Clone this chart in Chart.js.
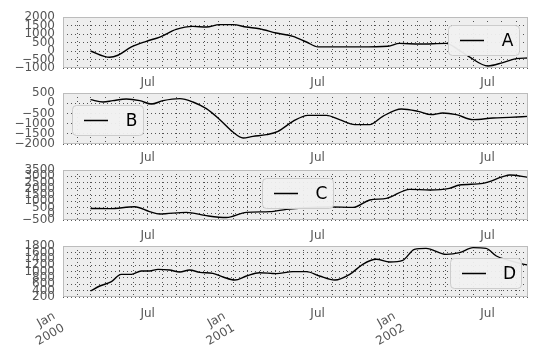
<!DOCTYPE html>
<html><head><meta charset="utf-8">
<script src="https://cdn.jsdelivr.net/npm/chart.js@4.4.0/dist/chart.umd.min.js"></script>
<style>
html,body{margin:0;padding:0;background:#fff;}
#wrap{position:relative;width:537px;height:358px;overflow:hidden;background:#fff;}
canvas{position:absolute;left:0;}
</style></head><body><div id="wrap">
<canvas id="cA" width="537" height="83" style="top:9px"></canvas>
<canvas id="cB" width="537" height="83" style="top:85px"></canvas>
<canvas id="cC" width="537" height="82" style="top:162px"></canvas>
<canvas id="cD" width="537" height="120" style="top:238px"></canvas>
</div>
<script>
// ---- data (days since 2000-01-01, 60-day rolling sums) ----
const daysA = [59,100,118,147,179,208,243,279,308,336,365,394,422,458,494,523,548,587,637,698,723,766,823,848,873,913,945,974,999];
const valuesA = [0,-370,-250,240,570,820,1270,1450,1410,1550,1550,1410,1310,1060,860,530,240,240,240,280,450,410,450,100,-350,-880,-680,-450,-410];
const daysB = [59,86,107,136,165,190,215,251,279,308,337,365,387,408,437,462,494,526,566,594,627,659,687,727,763,791,816,845,881,924,959,999];
const valuesB = [173,60,124,206,124,-40,124,222,60,-268,-807,-1412,-1706,-1624,-1542,-1379,-889,-595,-595,-807,-1052,-1052,-644,-284,-399,-562,-480,-562,-807,-725,-693,-644];
const daysC = [59,100,154,186,208,265,308,351,394,444,480,520,573,623,659,695,745,788,830,852,902,945,960,999];
const valuesC = [420,407,560,167,-20,113,-153,-300,113,167,353,480,540,513,1100,1233,1953,1900,2033,2300,2433,2967,3100,2913];
const daysD = [59,79,104,125,147,168,186,204,229,251,272,294,322,344,369,394,422,458,494,523,551,584,616,644,673,702,730,755,780,823,852,881,909,931,958,984,999];
const valuesD = [388,545,681,911,911,1016,1016,1068,1047,984,1047,974,942,827,733,858,963,932,995,995,858,733,911,1225,1382,1298,1350,1695,1727,1538,1591,1748,1727,1486,1350,1246,1204];
const seriesNames = ['A','B','C','D'];
const julTickLabel = 'Jul';
const janTickLabels = [['Jan','2000'],['Jan','2001'],['Jan','2002']];
const tickYears = [2000,2001,2002];

const FONT = 'DejaVu Sans';
const t0 = Date.UTC(2000,0,1);
const dayOf = (y,m) => (Date.UTC(y,m,1)-t0)/86400000;
const monthTicks = [];
for (const y of tickYears) for (let m=0;m<12;m++){ const d=dayOf(y,m); if (d<=999) monthTicks.push(d); }
const julDays = tickYears.map(y=>dayOf(y,6));
const janDays = tickYears.map(y=>dayOf(y,0));

const minus = v => v<0 ? '\u2212'+Math.abs(v) : String(v);
const noPad = s => { s.paddingTop = 0; s.paddingBottom = 0; s.paddingLeft = 0; s.paddingRight = 0; };

const framePlugin = {
  id:'frameLegend',
  beforeDraw(chart){
    const a = chart.chartArea, ctx = chart.ctx;
    ctx.save(); ctx.fillStyle = '#eeeeee';
    ctx.fillRect(a.left, a.top, a.right-a.left, a.bottom-a.top); ctx.restore();
  },
  afterDraw(chart, args, opts){
    const a = chart.chartArea, ctx = chart.ctx;
    ctx.save();
    ctx.strokeStyle = '#bcbcbc'; ctx.lineWidth = 1;
    ctx.strokeRect(Math.round(a.left)+0.5, Math.round(a.top)+0.5, Math.round(a.right-a.left)-1, Math.round(a.bottom-a.top)-1);
    // legend box
    const x = a.left + opts.left, y = a.top + opts.top, w = 71, h = 30;
    ctx.beginPath(); ctx.roundRect(x+0.5, y+0.5, w, h, 4);
    ctx.fillStyle = 'rgba(240,240,240,0.95)'; ctx.fill();
    ctx.strokeStyle = '#cccccc'; ctx.lineWidth = 1; ctx.stroke();
    ctx.beginPath(); ctx.moveTo(x+12, y+h/2+0.5); ctx.lineTo(x+36, y+h/2+0.5);
    ctx.strokeStyle = '#000'; ctx.lineWidth = 1.5; ctx.stroke();
    ctx.fillStyle = '#000'; ctx.font = '17px "'+FONT+'"';
    ctx.textAlign = 'center'; ctx.textBaseline = 'middle';
    ctx.fillText(opts.label, x+59.5, y+h/2+1.5);
    // rotated Jan labels (bottom panel only)
    if (opts.janLabels) {
      const xs = chart.scales.x;
      ctx.fillStyle = '#555555'; ctx.font = '12px "'+FONT+'"';
      ctx.textAlign = 'right'; ctx.textBaseline = 'top';
      janDays.forEach((d,i)=>{
        const px = xs.getPixelForValue(d);
        ctx.save();
        ctx.translate(px - 10, a.bottom + 12);
        ctx.rotate(-Math.PI/6);
        janTickLabels[i].forEach((ln,j)=>ctx.fillText(ln, -2*(1-j), j*15));
        ctx.restore();
      });
    }
    ctx.restore();
  }
};

function makePanel(id, days, values, name, ymin, ymax, step, axisH, labPad, legLeft, legTop, janLabels){
  new Chart(document.getElementById(id), {
    type:'line',
    data:{ datasets:[{ label:name, data: days.map((d,i)=>({x:d, y:values[i]})),
      borderColor:'#000', borderWidth:1.4, pointRadius:0, fill:false,
      cubicInterpolationMode:'monotone' }]},
    options:{
      responsive:false, animation:false, devicePixelRatio:1,
      layout:{ padding:{ top:8, right:9, left:0, bottom:0 } },
      plugins:{ legend:{display:false}, tooltip:{enabled:false},
        frameLegend:{ left:legLeft, top:legTop, label:name, janLabels } },
      scales:{
        x:{ type:'linear', min:0, max:999,
          afterBuildTicks(s){ s.ticks = monthTicks.map(v=>({value:v})); },
          afterFit(s){ s.height = axisH; noPad(s); },
          grid:{ color:'rgba(0,0,0,0.65)', lineWidth:1, drawTicks:false },
          border:{ display:false, dash:[1,3] },
          ticks:{ autoSkip:false, maxRotation:0, minRotation:0, padding:labPad,
            color:'#555555', font:{family:FONT, size:12},
            callback:(v)=> julDays.includes(v) ? julTickLabel : '' } },
        y:{ min:ymin, max:ymax,
          afterFit(s){ s.width = 63; noPad(s); },
          grid:{ color:'rgba(0,0,0,0.65)', lineWidth:1, drawTicks:false },
          border:{ display:false, dash:[1,3] },
          ticks:{ stepSize:step, autoSkip:false, padding:8,
            color:'#555555', font:{family:FONT, size:12},
            callback:(v)=>minus(v) } }
      }
    },
    plugins:[framePlugin]
  });
}

makePanel('cA', daysA, valuesA, seriesNames[0], -1000, 2000, 500, 24, 8, 385, 8, false);
makePanel('cB', daysB, valuesB, seriesNames[1], -2000, 500, 500, 24, 7, 9, 12, false);
makePanel('cC', daysC, valuesC, seriesNames[2], -500, 3500, 500, 24, 9, 199, 8, false);
makePanel('cD', daysD, valuesD, seriesNames[3], 200, 1800, 200, 61, 10, 387, 12, true);
</script>
</body></html>
